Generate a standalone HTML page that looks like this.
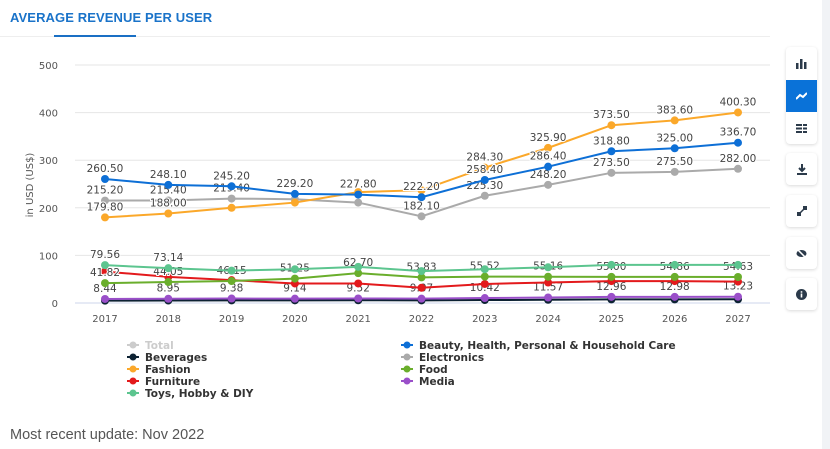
<!DOCTYPE html>
<html><head><meta charset="utf-8"><style>
body{margin:0;width:830px;height:449px;background:#fff;font-family:"Liberation Sans",sans-serif;overflow:hidden;position:relative}
.title{position:absolute;left:10px;top:10px;font-size:13px;font-weight:bold;color:#1a73c9;letter-spacing:0.1px}
.uline{position:absolute;left:54px;top:35px;width:82px;height:2px;background:#1a6fc4}
.hline{position:absolute;left:0;top:36px;width:770px;height:1px;background:#eee}
.side{position:absolute;left:822px;top:0;width:8px;height:449px;background:#f1f3f6}
.btn{position:absolute;left:786px;width:31px;background:#fff;border-radius:4px;box-shadow:0 1px 3px rgba(0,0,0,0.15);display:flex;align-items:center;justify-content:center;color:#2b3a4a;font-size:11px}
.upd{position:absolute;left:10px;top:427px;font-size:14.5px;color:#555}
</style></head><body>
<div class="title">AVERAGE REVENUE PER USER</div>
<div class="hline"></div>
<div class="uline"></div>
<div class="side"></div>
<div class="btn" style="top:47px;height:97px;display:block">
 <div style="height:33px;display:flex;align-items:center;justify-content:center"><svg width="11" height="10"><rect x="0" y="4" width="2.5" height="6" fill="#2b3a4a"/><rect x="4" y="0" width="2.5" height="10" fill="#2b3a4a"/><rect x="8" y="3" width="2.5" height="7" fill="#2b3a4a"/></svg></div>
 <div style="height:32px;background:#0a72d8;display:flex;align-items:center;justify-content:center"><svg width="11" height="8"><polyline points="0,7 4,3 7,5 11,1" stroke="#fff" stroke-width="2" fill="none"/></svg></div>
 <div style="height:32px;display:flex;align-items:center;justify-content:center"><svg width="11" height="9"><g fill="#2b3a4a"><rect x="0" y="0" width="6" height="2"/><rect x="7" y="0" width="4" height="2"/><rect x="0" y="3.5" width="6" height="2"/><rect x="7" y="3.5" width="4" height="2"/><rect x="0" y="7" width="6" height="2"/><rect x="7" y="7" width="4" height="2"/></g></svg></div>
</div>
<div class="btn" style="top:153px;height:32px"><svg width="10" height="11"><path d="M5 0V7M2 4L5 7L8 4" stroke="#2b3a4a" stroke-width="2" fill="none"/><rect x="0" y="9" width="10" height="2" fill="#2b3a4a"/></svg></div>
<div class="btn" style="top:195px;height:32px"><svg width="10" height="10"><path d="M1 9L9 1" stroke="#2b3a4a" stroke-width="1.5"/><rect x="0" y="6" width="4" height="4" fill="#2b3a4a"/><rect x="6" y="0" width="4" height="4" fill="#2b3a4a"/></svg></div>
<div class="btn" style="top:237px;height:32px"><svg width="11" height="9"><ellipse cx="5.5" cy="4.5" rx="5" ry="3.5" fill="#2b3a4a"/><path d="M1 0L10 9" stroke="#fff" stroke-width="1.5"/></svg></div>
<div class="btn" style="top:278px;height:32px"><svg width="11" height="11"><circle cx="5.5" cy="5.5" r="5.5" fill="#2b3a4a"/><rect x="4.7" y="4.5" width="1.6" height="4" fill="#fff"/><rect x="4.7" y="2.2" width="1.6" height="1.5" fill="#fff"/></svg></div>
<div class="upd">Most recent update: Nov 2022</div>
<svg id="chart" width="830" height="449" style="position:absolute;left:0;top:0"></svg>
<script>
const years=["2017","2018","2019","2020","2021","2022","2023","2024","2025","2026","2027"];
const yTicks=[0,100,200,300,400,500];
const beauty=[260.5,248.1,245.2,229.2,227.8,222.2,258.4,286.4,318.8,325.0,336.7];
const beautyLbl=["260.50","248.10","245.20","229.20","227.80","222.20","258.40","286.40","318.80","325.00","336.70"];
const electronics=[215.2,215.4,219.4,218,211,182.1,225.3,248.2,273.5,275.5,282.0];
const electronicsLbl=["215.20","215.40","219.40",null,null,"182.10","225.30","248.20","273.50","275.50","282.00"];
const fashion=[179.8,188.0,200,211,233,237,284.3,325.9,373.5,383.6,400.3];
const fashionLbl=["179.80","188.00",null,null,null,null,"284.30","325.90","373.50","383.60","400.30"];
const toys=[79.56,73.14,68,71,76,67,71,75,80,80,80];
const toysLbl=["79.56","73.14",null,null,null,null,null,null,null,null,null];
const food=[41.82,44.05,46.15,51.25,62.7,53.83,55.52,55.16,55.0,54.86,54.63];
const foodLbl=["41.82","44.05","46.15","51.25","62.70","53.83","55.52","55.16","55.00","54.86","54.63"];
const furniture=[66,55,48,41,41,32,40,43,46,46,45];
const media=[8.44,8.95,9.38,9.14,9.52,9.07,10.42,11.57,12.96,12.98,13.23];
const mediaLbl=["8.44","8.95","9.38","9.14","9.52","9.07","10.42","11.57","12.96","12.98","13.23"];
const beverages=[5,5.2,5.4,5.6,5.8,5.5,6.2,6.8,7.5,7.6,7.8];

const NS="http://www.w3.org/2000/svg";
const FF='DejaVu Sans, Liberation Sans, sans-serif';
const svg=document.getElementById('chart');
const X=i=>105+i*63.3;
const Y=v=>303-v*0.476;
function mk(t,a,p){const e=document.createElementNS(NS,t);for(const k in a)e.setAttribute(k,a[k]);(p||svg).appendChild(e);return e;}
yTicks.forEach(t=>{
 const g=mk('line',{x1:75,x2:770,y1:Y(t),y2:Y(t),stroke:t===0?'#ccd6eb':'#e6e6e6','stroke-width':1});
 
 
 const l=mk('text',{x:58,y:Y(t)+4,'text-anchor':'end','font-size':'10',fill:'#555','font-family':FF});
 l.textContent=t;
 
 
});
years.forEach((y,i)=>{
 const l=mk('text',{x:X(i),y:322,'text-anchor':'middle','font-size':'10',fill:'#555','font-family':FF});
 l.textContent=y;
 
 
});
const yt=mk('text',{x:0,y:0,transform:'translate(33,185) rotate(-90)','text-anchor':'middle','font-size':'10',fill:'#555','font-family':FF});
yt.textContent='in USD (US$)';


function series(name,vals,color,lbls){
 const g=mk('g',{});
 
 
 mk('polyline',{points:vals.map((v,i)=>X(i)+','+Y(v)).join(' '),fill:'none',stroke:color,'stroke-width':2},g);
 vals.forEach((v,i)=>{const c=mk('circle',{cx:X(i),cy:Y(v),r:4,fill:color},g);
  
  });
 if(lbls)lbls.forEach((s,i)=>{if(!s)return;const t=mk('text',{x:X(i),y:Y(vals[i])-7,'text-anchor':'middle','font-size':'10.5',fill:'#444','font-family':FF,stroke:'#fff','stroke-width':2,'paint-order':'stroke'},g);t.textContent=s;
  
  });
}
series('beverages',beverages,'#0d2233',null);
series('media',media,'#9a4fc9',mediaLbl);
series('furniture',furniture,'#e31a1c',null);
series('food',food,'#6aae2c',foodLbl);
series('toys',toys,'#5cc58f',toysLbl);
series('electronics',electronics,'#aaaaaa',electronicsLbl);
series('fashion',fashion,'#fba82a',fashionLbl);
series('beauty',beauty,'#0d6fd6',beautyLbl);
const legend=[["Total","#ccc",133,345,true],["Beverages","#0d2233",133,357],["Fashion","#fba82a",133,369],["Furniture","#e31a1c",133,381],["Toys, Hobby & DIY","#5cc58f",133,393],
["Beauty, Health, Personal & Household Care","#0d6fd6",407,345],["Electronics","#aaaaaa",407,357],["Food","#6aae2c",407,369],["Media","#9a4fc9",407,381]];
legend.forEach(l=>{
 const g=mk('g',{});
 
 
 mk('line',{x1:l[2]-6,x2:l[2]+6,y1:l[3],y2:l[3],stroke:l[1],'stroke-width':2},g);
 mk('circle',{cx:l[2],cy:l[3],r:3.5,fill:l[1]},g);
 const t=mk('text',{x:l[2]+12,y:l[3]+4,'font-size':'10.5','font-weight':'bold',fill:l[4]?'#ccc':'#333','font-family':FF},g);
 t.textContent=l[0];
});
</script>
</body></html>
